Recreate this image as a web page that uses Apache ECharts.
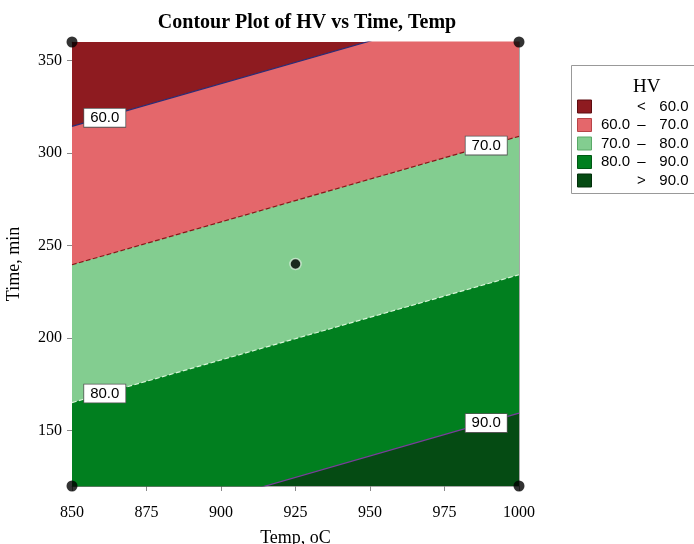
<!DOCTYPE html>
<html>
<head>
<meta charset="utf-8">
<script src="https://cdn.jsdelivr.net/npm/echarts@6/dist/echarts.min.js"></script>
<style>
html,body{margin:0;padding:0;background:#fff;}
#main{width:694px;height:544px;}
</style>
</head>
<body>
<div id="main"></div>
<script>
// contour boundaries: Time value at Temp = 850 and Temp = 1000
var tempEnds = [850, 1000];
var topEdge = [360, 360];
var line60 = [314.4, 383.6];
var line70 = [239.6, 309.0];
var line80 = [165.1, 234.2];
var line90 = [89.9, 159.4];

// design points
var designTemp = [850, 850, 1000, 1000, 925];
var designTime = [120, 360, 120, 360, 240];

// contour labels
var labelText = ['60.0', '70.0', '80.0', '90.0'];
var labelTemp = [861, 989, 861, 989];
var labelTime = [319, 304, 170, 154];

var xTicks = [850, 875, 900, 925, 950, 975, 1000];
var yTicks = [150, 200, 250, 300, 350];

var bandNames = ['< 60.0', '60.0 – 70.0', '70.0 – 80.0', '80.0 – 90.0', '> 90.0'];
var bandFill = ['#8e1b20', '#e4676b', '#83cd90', '#017f1f', '#054b13'];
var bandEdge = ['#5c0c10', '#b84448', '#5aa968', '#005814', '#022e0b'];
var lineColor = ['rgba(0,0,0,0)', '#2a2d78', '#8a1419', '#d9f5d9', '#7a3c9c'];
var lineType = ['solid', 'solid', 'dashed', 'dashed', 'solid'];
var bounds = [topEdge, line60, line70, line80, line90];

function pts(arr){
	return tempEnds.map(function(t, i){ return [t, arr[i]]; });
}

var series = [];
bounds.forEach(function(b, i){
	var s = {
		name: bandNames[i],
		type: 'line',
		data: pts(b),
		showSymbol: false,
		clip: true,
		silent: true,
		itemStyle: {color: bandFill[i]},
		lineStyle: {color: lineColor[i], width: i == 0 ? 0 : 1.2, type: lineType[i]},
		areaStyle: {color: bandFill[i], opacity: 1, origin: 'start'},
		z: 2
	};
	if(i > 0){
		s.markPoint = {
			symbol: 'rect',
			symbolSize: 0,
			silent: true,
			label: {
				show: true,
				position: 'inside',
				formatter: '{c}',
				color: '#000',
				fontFamily: 'Liberation Sans',
				fontSize: 15,
				backgroundColor: '#fff',
				borderColor: '#555',
				borderWidth: 0.8,
				padding: [2, 6, 1, 6]
			},
			data: [{coord: [labelTemp[i-1], labelTime[i-1]], value: labelText[i-1]}]
		};
	}
	series.push(s);
});

series.push({
	name: 'points',
	type: 'scatter',
	data: designTemp.map(function(t, i){
		var p = {value: [t, designTime[i]]};
		if(i == 4) p.itemStyle = {borderColor: '#d8f3dc', borderWidth: 1.5};
		return p;
	}),
	symbol: 'circle',
	symbolSize: 11,
	clip: false,
	itemStyle: {color: '#000'},
	z: 5
});

var chart = echarts.init(document.getElementById('main'));
var serif = 'Liberation Serif';
chart.setOption({
	animation: false,
	title: [{
		text: 'Contour Plot of HV vs Time, Temp',
		left: 302,
		textAlign: 'center',
		top: 8,
		textStyle: {fontFamily: serif, fontWeight: 'bold', fontSize: 20, color: '#000'}
	}, {
		text: 'HV',
		left: 628,
		top: 73,
		textStyle: {fontFamily: serif, fontWeight: 'normal', fontSize: 19, color: '#000'}
	}],
	graphic: [{
		type: 'rect',
		shape: {x: 571.5, y: 65.5, width: 130, height: 128},
		style: {fill: 'none', stroke: '#999', lineWidth: 1},
		silent: true
	}],
	legend: {
		orient: 'vertical',
		left: 577,
		top: 99,
		padding: 0,
		itemWidth: 14,
		itemHeight: 13,
		itemGap: 3.5,
		icon: 'rect',
		data: bandNames.map(function(n, i){
			return {name: n, itemStyle: {color: bandFill[i], borderColor: bandEdge[i], borderWidth: 1}};
		}),
		formatter: function(name){
			var p = name.split(' ');
			if(p.length == 2) return '{a|}{b|' + p[0] + '}{c|' + p[1] + '}';
			return '{a|' + p[0] + '}{b|' + p[1] + '}{c|' + p[2] + '}';
		},
		textStyle: {
			fontFamily: 'Liberation Sans',
			fontSize: 15,
			color: '#000',
			rich: {
				a: {width: 38, align: 'right', fontFamily: 'Liberation Sans', fontSize: 15},
				b: {width: 14, align: 'center', fontFamily: 'Liberation Sans', fontSize: 15},
				c: {width: 40, align: 'right', fontFamily: 'Liberation Sans', fontSize: 15}
			}
		}
	},
	grid: {left: 72, right: 175, top: 42, bottom: 58, outerBoundsMode: 'none', containLabel: false},
	xAxis: [{
		type: 'value',
		min: 850,
		max: 1000,
		interval: 25,
		name: 'Temp, oC',
		nameLocation: 'middle',
		nameGap: 43,
		nameTextStyle: {fontFamily: serif, fontSize: 18, color: '#000'},
		axisLine: {show: true, lineStyle: {color: '#a8a8a8'}},
		axisTick: {show: true, length: 5, lineStyle: {color: '#888'}},
		axisLabel: {fontFamily: serif, fontSize: 16, color: '#000', margin: 19,
			formatter: function(v){ return String(v); }},
		splitLine: {show: false}
	}, {
		type: 'value',
		position: 'top',
		min: 850,
		max: 1000,
		axisLine: {show: true, onZero: false, lineStyle: {color: '#a8a8a8'}},
		axisTick: {show: false},
		axisLabel: {show: false},
		splitLine: {show: false}
	}],
	yAxis: [{
		type: 'value',
		min: 120,
		max: 360,
		name: 'Time, min',
		nameLocation: 'middle',
		nameGap: 49,
		nameTextStyle: {fontFamily: serif, fontSize: 18, color: '#000'},
		axisLine: {show: true, lineStyle: {color: '#a8a8a8'}},
		axisTick: {show: true, length: 5, customValues: yTicks, lineStyle: {color: '#888'}},
		axisLabel: {fontFamily: serif, fontSize: 16, color: '#000', margin: 10, customValues: yTicks},
		splitLine: {show: false}
	}, {
		type: 'value',
		position: 'right',
		min: 120,
		max: 360,
		axisLine: {show: true, onZero: false, lineStyle: {color: '#a8a8a8'}},
		axisTick: {show: false},
		axisLabel: {show: false},
		splitLine: {show: false}
	}],
	series: series
});
</script>
</body>
</html>
